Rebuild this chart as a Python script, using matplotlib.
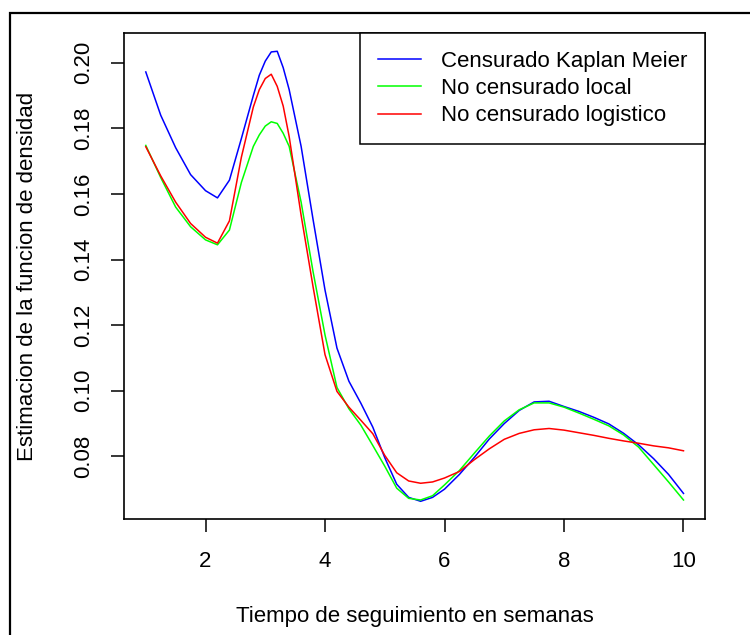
import numpy as np
import matplotlib.pyplot as plt
from matplotlib.patches import Rectangle

plt.rcParams['font.family'] = ['Liberation Sans', 'DejaVu Sans']

# tiempo (semanas)
tiempo = [1.0, 1.25, 1.5, 1.75, 2.0, 2.2, 2.4, 2.6, 2.8, 2.9, 3.0, 3.1, 3.2, 3.3, 3.4, 3.6, 3.8,
          4.0, 4.2, 4.4, 4.6, 4.8, 5.0, 5.2, 5.4, 5.6, 5.8, 6.0, 6.25, 6.5, 6.75,
          7.0, 7.25, 7.5, 7.75, 8.0, 8.25, 8.5, 8.75, 9.0, 9.25, 9.5, 9.75, 10.0]

# estimaciones de densidad
kaplan_meier = [0.1972, 0.1840, 0.1741, 0.1659, 0.1610, 0.1588, 0.1642, 0.1769, 0.1900, 0.1962,
                0.2005, 0.2033, 0.2035, 0.1985, 0.1918, 0.1745, 0.1522, 0.1307, 0.1130, 0.1029,
                0.0962, 0.0889, 0.0796, 0.0715, 0.0675, 0.0663, 0.0675, 0.0700, 0.0745,
                0.0797, 0.0853, 0.0900, 0.0940, 0.0966, 0.0968, 0.0952, 0.0937, 0.0919,
                0.0899, 0.0870, 0.0835, 0.0793, 0.0745, 0.0687]
local = [0.1748, 0.1650, 0.1560, 0.1500, 0.1460, 0.1445, 0.1490, 0.1635, 0.1745, 0.1780,
         0.1807, 0.1820, 0.1815, 0.1785, 0.1745, 0.1575, 0.1363, 0.1170, 0.1010, 0.0945,
         0.0895, 0.0833, 0.0770, 0.0703, 0.0672, 0.0667, 0.0680, 0.0713, 0.0757,
         0.0810, 0.0862, 0.0908, 0.0942, 0.0963, 0.0963, 0.0950, 0.0932, 0.0913,
         0.0893, 0.0865, 0.0828, 0.0775, 0.0722, 0.0667]
logistico = [0.1744, 0.1655, 0.1575, 0.1510, 0.1468, 0.1450, 0.1518, 0.1712, 0.1865, 0.1918,
             0.1952, 0.1965, 0.1928, 0.1868, 0.1775, 0.1535, 0.1317, 0.1110, 0.0998, 0.0950,
             0.0910, 0.0869, 0.0803, 0.0750, 0.0725, 0.0718, 0.0722, 0.0734, 0.0754,
             0.0790, 0.0823, 0.0852, 0.0870, 0.0881, 0.0885, 0.0880, 0.0872, 0.0864,
             0.0855, 0.0847, 0.0840, 0.0832, 0.0826, 0.0817]

nombres = ['Censurado Kaplan Meier', 'No censurado local', 'No censurado logistico']
colores = ['#0000FF', '#00FF00', '#FF0000']

fig = plt.figure(figsize=(7.5, 6.35), dpi=100)
ax = fig.add_axes([0.1657, 0.1822, 0.9400 - 0.1657, 0.9476 - 0.1822])

for serie, nombre, color in zip([kaplan_meier, local, logistico], nombres, colores):
    ax.plot(tiempo, serie, color=color, lw=1.1, label=nombre)

# rango tipo R (4% extra)
xmin, xmax = min(tiempo), max(tiempo)
todos = kaplan_meier + local + logistico
ymin, ymax = min(todos), max(todos)
dx, dy = 0.04 * (xmax - xmin), 0.04 * (ymax - ymin)
ax.set_xlim(xmin - dx, xmax + dx)
ax.set_ylim(ymin - dy, ymax + dy)

ax.set_xticks([2, 4, 6, 8, 10])
ax.set_yticks([0.08, 0.10, 0.12, 0.14, 0.16, 0.18, 0.20])
ax.set_yticklabels(['0.08', '0.10', '0.12', '0.14', '0.16', '0.18', '0.20'],
                   rotation=90, va='center')
ax.tick_params(labelsize=16, length=9.5, width=1.1, colors='black', direction='out')
ax.tick_params(axis='x', pad=13)
ax.tick_params(axis='y', pad=12)
for s in ax.spines.values():
    s.set_linewidth(1.2)

ax.set_xlabel('Tiempo de seguimiento en semanas', fontsize=16)
ax.set_ylabel('Estimacion de la funcion de densidad', fontsize=16)
ax.xaxis.set_label_coords(0.5, -0.2)
ax.xaxis.label.set_va('center')
ax.yaxis.set_label_coords(-0.166, 0.5)
ax.yaxis.label.set_va('center')

leg = ax.legend(loc='upper right', fontsize=16, fancybox=False, framealpha=1,
                edgecolor='black', borderaxespad=0, borderpad=0.8,
                handlelength=1.95, handletextpad=0.9, labelspacing=0.28)
leg.get_frame().set_linewidth(1.1)

# marco exterior
fig.patches.append(Rectangle((10 / 750, -0.1), 1.2, 1 - 13 / 635 + 0.1,
                             transform=fig.transFigure, fill=False,
                             edgecolor='black', lw=1.6, clip_on=False))

fig.savefig('out.png', dpi=100)
